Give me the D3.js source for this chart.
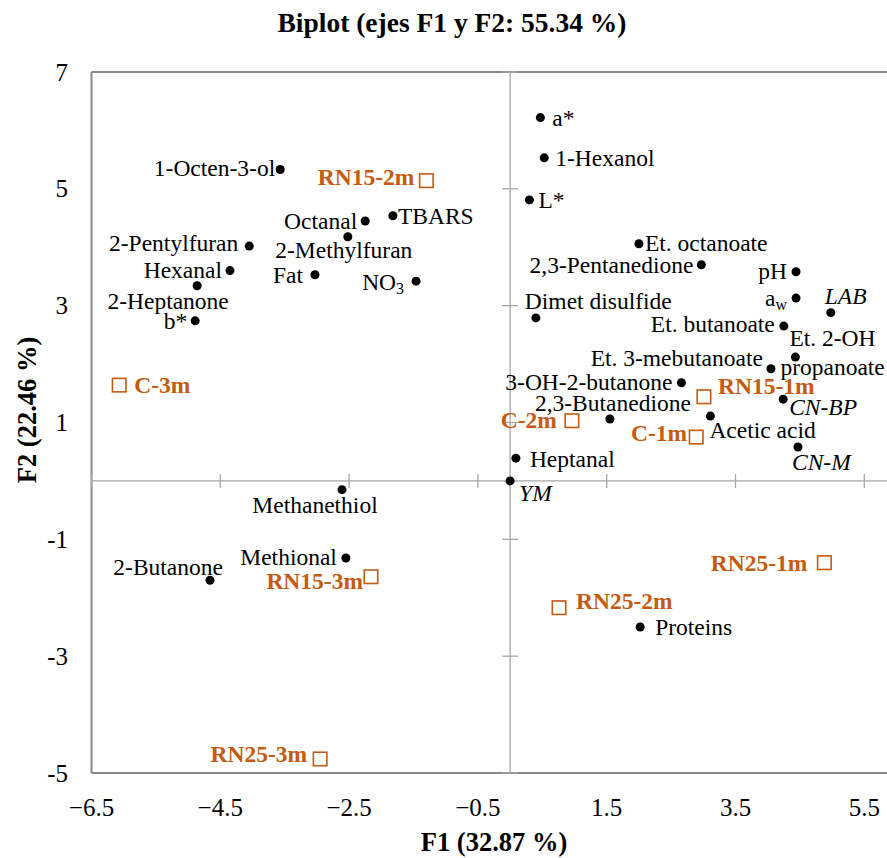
<!DOCTYPE html>
<html>
<head>
<meta charset="utf-8">
<script src="https://cdn.jsdelivr.net/npm/d3@7"></script>
<style>
  html, body { margin: 0; padding: 0; background: #fff; }
  svg { display: block; font-family: "Liberation Serif", "Times New Roman", serif; }
</style>
</head>
<body>
<svg id="chart" width="887" height="858"></svg>
<script>
// ---- Data: PCA biplot, axes F1 and F2 ----
const chartTitle = "Biplot (ejes F1 y F2: 55.34 %)";
const xTitle = "F1 (32.87 %)";
const yTitle = "F2 (22.46 %)";

// Variables (active, black dots). "_" marks a subscript.
const varNames = ["a*", "1-Hexanol", "L*", "1-Octen-3-ol", "Octanal", "TBARS", "2-Methylfuran",
  "2-Pentylfuran", "Hexanal", "Fat", "NO_3", "2-Heptanone", "b*", "Et. octanoate",
  "2,3-Pentanedione", "pH", "a_w", "LAB", "Et. butanoate", "Dimet disulfide",
  "Et. 2-OH propanoate", "Et. 3-mebutanoate", "3-OH-2-butanone", "CN-BP", "2,3-Butanedione",
  "Acetic acid", "CN-M", "Heptanal", "YM", "Methanethiol", "Methional", "2-Butanone", "Proteins"];
const varF1 = [0.47, 0.53, 0.30, -3.57, -2.25, -1.82, -2.52,
  -4.05, -4.35, -3.03, -1.46, -4.86, -4.89, 2.00,
  2.97, 4.44, 4.44, 4.98, 4.25, 0.40,
  4.43, 4.05, 2.66, 4.24, 1.55,
  3.11, 4.47, 0.09, 0.00, -2.61, -2.55, -4.66, 2.02];
const varF2 = [6.22, 5.53, 4.81, 5.33, 4.45, 4.54, 4.18,
  4.02, 3.60, 3.53, 3.42, 3.34, 2.74, 4.06,
  3.70, 3.58, 3.13, 2.88, 2.65, 2.79,
  2.12, 1.92, 1.68, 1.40, 1.06,
  1.11, 0.58, 0.39, 0.00, -0.15, -1.32, -1.70, -2.50];
const italicVars = ["LAB", "CN-BP", "CN-M", "YM"];

// Observations (orange open squares)
const obsNames = ["RN15-2m", "C-3m", "RN15-1m", "C-2m", "C-1m", "RN15-3m", "RN25-3m", "RN25-1m", "RN25-2m"];
const obsF1 = [-1.30, -6.07, 3.01, 0.96, 2.89, -2.16, -2.95, 4.88, 0.76];
const obsF2 = [5.14, 1.64, 1.44, 1.03, 0.75, -1.64, -4.76, -1.40, -2.17];

// Axis ticks
const xTicks = [-6.5, -4.5, -2.5, -0.5, 1.5, 3.5, 5.5];
const yTicks = [-5, -3, -1, 1, 3, 5, 7];

// ---- Label placement (text anchor, offset in px from the marker) ----
const labelPlace = {
  "a*": ["start", 12, 0],
  "1-Hexanol": ["start", 11, 0],
  "L*": ["start", 9, 0],
  "1-Octen-3-ol": ["end", -5, -2],
  "Octanal": ["end", -8, 0],
  "TBARS": ["start", 5, 0],
  "2-Methylfuran": ["middle", -4, 13],
  "2-Pentylfuran": ["end", -11, -3],
  "Hexanal": ["end", -8, -1],
  "Fat": ["end", -12, 0],
  "NO_3": ["end", -12, 1],
  "2-Heptanone": ["middle", -29, 15],
  "b*": ["end", -8, 0],
  "Et. octanoate": ["start", 6, -1],
  "2,3-Pentanedione": ["end", -8, 0],
  "pH": ["end", -9, -1],
  "a_w": ["end", -9, 0],
  "LAB": ["start", -6, -17],
  "Et. butanoate": ["end", -9, -2],
  "Dimet disulfide": ["start", -11, -17],
  "Et. 3-mebutanoate": ["end", -8, -11],
  "3-OH-2-butanone": ["end", -9, -1],
  "CN-BP": ["start", 6, 8],
  "2,3-Butanedione": ["middle", 3, -16],
  "Acetic acid": ["start", -1, 14],
  "CN-M": ["start", -6, 15],
  "Heptanal": ["start", 14, 1],
  "YM": ["start", 9, 12],
  "Methanethiol": ["middle", -27, 15],
  "Methional": ["end", -9, -1],
  "2-Butanone": ["end", 13, -13],
  "Proteins": ["start", 15, 0],
  "RN15-2m": ["end", -12, -4],
  "C-3m": ["start", 15, 0],
  "RN15-1m": ["start", 14, -11],
  "C-2m": ["end", -15, -1],
  "C-1m": ["end", -9, -4],
  "RN15-3m": ["end", -8, 4],
  "RN25-3m": ["end", -13, -5],
  "RN25-1m": ["end", -17, 0],
  "RN25-2m": ["start", 17, -7]
};
// two-line label
const splitLabels = {
  "Et. 2-OH propanoate": [["Et. 2-OH", "start", -6, -19], ["propanoate", "start", -15, 10]]
};

// ---- Chart ----
const svg = d3.select("#chart");
const orange = "#C55A11";
const axisGray = "#898989";
const labelSize = 23.5;

const x = d3.scaleLinear().domain([-6.5, 5.5]).range([91.5, 864.3]);
const y = d3.scaleLinear().domain([-5, 7]).range([773, 72]);
const xRight = x(7.5);

// plot frame
const frame = svg.append("g").attr("stroke", axisGray).attr("stroke-width", 2).attr("fill", "none");
frame.append("line").attr("x1", x(-6.5)).attr("x2", xRight).attr("y1", y(7)).attr("y2", y(7));
frame.append("line").attr("x1", x(-6.5)).attr("x2", xRight).attr("y1", y(-5)).attr("y2", y(-5));
frame.append("line").attr("x1", x(-6.5)).attr("x2", x(-6.5)).attr("y1", y(7)).attr("y2", y(-5));

// zero lines with crossing tick marks
const zero = svg.append("g").attr("stroke", "#a6a6a6").attr("stroke-width", 1.3);
zero.append("line").attr("x1", x(-6.5)).attr("x2", xRight).attr("y1", y(0)).attr("y2", y(0));
zero.append("line").attr("x1", x(0)).attr("x2", x(0)).attr("y1", y(7)).attr("y2", y(-5));
zero.selectAll(".xt").data(xTicks).join("line")
  .attr("x1", d => x(d)).attr("x2", d => x(d))
  .attr("y1", y(0) - 7).attr("y2", y(0) + 7);
zero.selectAll(".yt").data(yTicks).join("line")
  .attr("y1", d => y(d)).attr("y2", d => y(d))
  .attr("x1", x(0) - 8).attr("x2", x(0) + 8);

// tick labels on the outer edges
svg.append("g").selectAll("text").data(xTicks).join("text")
  .attr("x", d => x(d)).attr("y", 807)
  .attr("text-anchor", "middle").attr("dominant-baseline", "central")
  .attr("font-size", 25).attr("fill", "#000")
  .text(d => d3.format(".1f")(d));
svg.append("g").selectAll("text").data(yTicks).join("text")
  .attr("x", 68).attr("y", d => y(d))
  .attr("text-anchor", "end").attr("dominant-baseline", "central")
  .attr("font-size", 25).attr("fill", "#000")
  .text(d => d);

// titles
svg.append("text").attr("x", 452).attr("y", 22)
  .attr("text-anchor", "middle").attr("dominant-baseline", "central")
  .attr("font-size", 27.5).attr("font-weight", "bold").text(chartTitle);
svg.append("text").attr("x", 494).attr("y", 842)
  .attr("text-anchor", "middle").attr("dominant-baseline", "central")
  .attr("font-size", 26.5).attr("font-weight", "bold").text(xTitle);
svg.append("text").attr("transform", "translate(27,410) rotate(-90)")
  .attr("text-anchor", "middle").attr("dominant-baseline", "central")
  .attr("font-size", 26.5).attr("font-weight", "bold").text(yTitle);

// helper: writes a label, with "_" starting a subscript
function writeLabel(sel, str) {
  const parts = str.split("_");
  sel.append("tspan").text(parts[0]);
  if (parts.length > 1) {
    sel.append("tspan").attr("font-size", labelSize * 0.68).attr("dy", 6).text(parts[1]);
  }
}

// variables
const vars = varNames.map((n, i) => ({ name: n, f1: varF1[i], f2: varF2[i] }));
const vg = svg.append("g");
vg.selectAll("circle").data(vars).join("circle")
  .attr("cx", d => x(d.f1)).attr("cy", d => y(d.f2)).attr("r", 4.5).attr("fill", "#000");
vars.forEach(d => {
  const cx = x(d.f1), cy = y(d.f2);
  const lines = splitLabels[d.name] || [[d.name].concat(labelPlace[d.name])];
  lines.forEach(([txt, anchor, dx, dy]) => {
    const t = vg.append("text")
      .attr("x", cx + dx).attr("y", cy + dy)
      .attr("text-anchor", anchor).attr("dominant-baseline", "central")
      .attr("font-size", labelSize).attr("fill", "#000")
      .attr("font-style", italicVars.includes(d.name) ? "italic" : "normal");
    writeLabel(t, txt);
  });
});

// observations
const obs = obsNames.map((n, i) => ({ name: n, f1: obsF1[i], f2: obsF2[i] }));
const og = svg.append("g");
const sq = 13.5;
og.selectAll("rect").data(obs).join("rect")
  .attr("x", d => x(d.f1) - sq / 2).attr("y", d => y(d.f2) - sq / 2)
  .attr("width", sq).attr("height", sq)
  .attr("fill", "#fff").attr("stroke", orange).attr("stroke-width", 1.6);
og.selectAll("text").data(obs).join("text")
  .attr("x", d => x(d.f1) + labelPlace[d.name][1])
  .attr("y", d => y(d.f2) + labelPlace[d.name][2])
  .attr("text-anchor", d => labelPlace[d.name][0])
  .attr("dominant-baseline", "central")
  .attr("font-size", labelSize).attr("font-weight", "bold").attr("fill", orange)
  .text(d => d.name);
</script>
</body>
</html>
